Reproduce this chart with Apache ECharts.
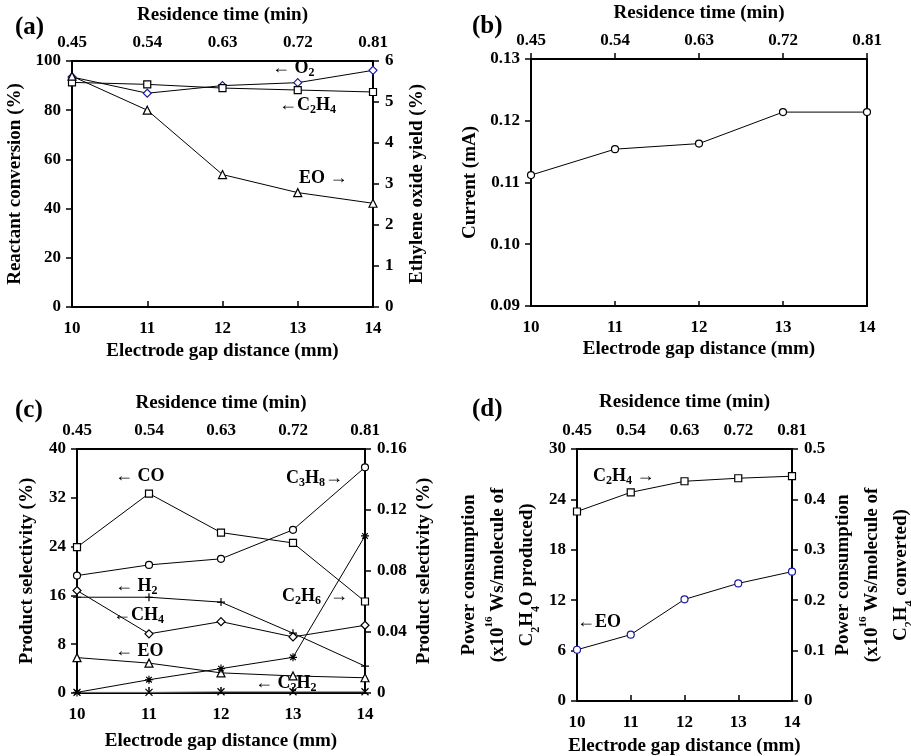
<!DOCTYPE html>
<html>
<head>
<meta charset="utf-8">
<script src="https://cdn.jsdelivr.net/npm/echarts@6/dist/echarts.min.js"></script>
<style>
  html, body { margin: 0; padding: 0; background: #fff; }
  #chart { width: 911px; height: 756px; }
</style>
</head>
<body>
<div id="chart"></div>
<script>
// x axis (bottom) and residence time (top)
var gap = [10, 11, 12, 13, 14];
var resTime = ['0.45', '0.54', '0.63', '0.72', '0.81'];

// (a) reactant conversion (%) and EO yield (%)
var aO2 = [93.5, 86.9, 90.0, 91.2, 96.2];
var aC2H4 = [91.3, 90.5, 89.0, 88.2, 87.4];
var aEOyield = [5.63, 4.80, 3.23, 2.79, 2.53];

// (b) current (mA)
var bCurrent = [0.1112, 0.1154, 0.1163, 0.1214, 0.1214];

// (c) product selectivity (%)
var cCO = [23.9, 32.7, 26.3, 24.6, 15.0];
var cC3H8 = [0.077, 0.084, 0.088, 0.107, 0.148];   // right axis
var cH2 = [15.7, 15.7, 14.9, 9.8, 4.4];
var cCH4 = [16.8, 9.7, 11.7, 9.2, 11.1];
var cEO = [5.8, 4.9, 3.3, 2.8, 2.5];
var cC2H6 = [0.0004, 0.0087, 0.016, 0.0234, 0.103]; // right axis
var cC2H2 = [0.1, 0.1, 0.2, 0.2, 0.2];

// (d) power consumption
var dEO = [6.1, 7.9, 12.1, 14.0, 15.4];
var dC2H4 = [0.376, 0.414, 0.436, 0.442, 0.446];    // right axis

var FONT = '"Liberation Serif", "DejaVu Serif", serif';
var myChart = echarts.init(document.getElementById('chart'));

var grids = [
  { left: 72, top: 61, width: 301, height: 246 },
  { left: 531, top: 59, width: 336, height: 247 },
  { left: 77, top: 449, width: 288, height: 244 },
  { left: 577, top: 449, width: 215, height: 252 }
];
// name gaps per panel: [top, bottom]
var xGaps = [[36, 35], [36, 34], [36, 39], [37, 36]];

var rich = {
  n: { fontFamily: FONT, fontWeight: 'bold', fontSize: 19, color: '#000', lineHeight: 29 },
  s: { fontFamily: FONT, fontWeight: 'bold', fontSize: 12, color: '#000', verticalAlign: 'bottom', lineHeight: 20, padding: [7, 0, 0, 0] },
  p: { fontFamily: FONT, fontWeight: 'bold', fontSize: 11, color: '#000', verticalAlign: 'top', padding: [0, 0, 9, 0] },
  m: { fontFamily: FONT, fontWeight: 'bold', fontSize: 18, color: '#000', lineHeight: 22 },
  ms: { fontFamily: FONT, fontWeight: 'bold', fontSize: 12, color: '#000', verticalAlign: 'bottom', lineHeight: 18, padding: [7, 0, 0, 0] }
};

function xAxes(g) {
  var common = {
    type: 'value', gridIndex: g, min: 10, max: 14, interval: 1,
    axisLine: { lineStyle: { color: '#000', width: 2 } },
    splitLine: { show: false },
    nameLocation: 'middle',
    nameTextStyle: { fontFamily: FONT, fontWeight: 'bold', fontSize: 19, color: '#000' }
  };
  return [
    Object.assign({}, common, {
      position: 'bottom', name: 'Electrode gap distance (mm)', nameGap: xGaps[g][1],
      axisTick: { inside: true, length: 5, lineStyle: { color: '#000', width: 1.5 } },
      axisLabel: { fontFamily: FONT, fontWeight: 'bold', fontSize: 17, color: '#000', margin: 13 }
    }),
    Object.assign({}, common, {
      position: 'top', name: 'Residence time (min)', nameGap: xGaps[g][0],
      axisTick: { length: 6, lineStyle: { color: '#000', width: 1.5 } },
      axisLabel: {
        fontFamily: FONT, fontWeight: 'bold', fontSize: 17, color: '#000', margin: 10,
        formatter: function (v) { return resTime[gap.indexOf(v)]; }
      }
    })
  ];
}

function yAxis(g, pos, min, max, interval, name, nameGap, showLabels, fmt) {
  return {
    type: 'value', gridIndex: g, position: pos, min: min, max: max, interval: interval,
    axisLine: { show: true, lineStyle: { color: '#000', width: 2 } },
    axisTick: { show: showLabels, length: 6, lineStyle: { color: '#000', width: 1.5 } },
    axisLabel: {
      show: showLabels, fontFamily: FONT, fontWeight: 'bold', fontSize: 17, color: '#000', margin: pos === 'left' ? 11 : 12,
      formatter: fmt
    },
    splitLine: { show: false },
    name: name, nameLocation: 'middle', nameGap: nameGap, nameRotate: 90,
    nameTextStyle: { fontFamily: FONT, fontWeight: 'bold', fontSize: 19, color: '#000', rich: rich, align: 'center' }
  };
}

function line(name, g, yIdx, data, symbol, size, border) {
  return {
    name: name, type: 'line',
    xAxisIndex: 2 * g, yAxisIndex: 2 * g + yIdx,
    data: gap.map(function (x, i) { return [x, data[i]]; }),
    symbol: symbol, symbolSize: size,
    lineStyle: { color: '#000', width: 1 },
    itemStyle: { color: '#fff', borderColor: border || '#000', borderWidth: 1.2 },
    showSymbol: true, silent: true, z: 3
  };
}

var PLUS = 'path://M0,5L10,5M5,0L5,10';
var STAR = 'path://M0,5L10,5M5,0L5,10M1.5,1.5L8.5,8.5M8.5,1.5L1.5,8.5';
var CROSS = 'path://M0,0L10,10M10,0L0,10';

var xA = [].concat(xAxes(0), xAxes(1), xAxes(2), xAxes(3));
var yA = [
  yAxis(0, 'left', 0, 100, 20, 'Reactant conversion (%)', 47, true),
  yAxis(0, 'right', 0, 6, 1, 'Ethylene oxide yield (%)', 35, true),
  yAxis(1, 'left', 0.09, 0.13, 0.01, 'Current (mA)', 51, true, function (v) { return v.toFixed(2); }),
  yAxis(1, 'right', 0.09, 0.13, 0.01, '', 0, false),
  yAxis(2, 'left', 0, 40, 8, 'Product selectivity (%)', 40, true),
  yAxis(2, 'right', 0, 0.16, 0.04, 'Product selectivity (%)', 50, true, function (v) { return v === 0 ? '0' : v.toFixed(2); }),
  yAxis(3, 'left', 0, 30, 6,
    '{n|Power consumption}\n{n|(x10}{p|16}{n| Ws/molecule of}\n{n|C}{s|2}{n|H}{s|4}{n|O produced)}', 35, true),
  yAxis(3, 'right', 0, 0.5, 0.1,
    '{n|Power consumption}\n{n|(x10}{p|16}{n| Ws/molecule of}\n{n|C}{s|2}{n|H}{s|4}{n| converted)}', 37, true,
    function (v) { return v === 0 ? '0' : v.toFixed(1); })
];

var series = [
  line('O2', 0, 0, aO2, 'diamond', 8, '#1a1aa6'),
  line('C2H4', 0, 0, aC2H4, 'rect', 7),
  line('EO yield', 0, 1, aEOyield, 'triangle', 8),
  line('Current', 1, 0, bCurrent, 'circle', 7),
  line('CO', 2, 0, cCO, 'rect', 7),
  line('C3H8', 2, 1, cC3H8, 'circle', 7),
  line('H2', 2, 0, cH2, PLUS, 8),
  line('CH4', 2, 0, cCH4, 'diamond', 8),
  line('EO', 2, 0, cEO, 'triangle', 8),
  line('C2H6', 2, 1, cC2H6, STAR, 8),
  line('C2H2', 2, 0, cC2H2, CROSS, 7),
  line('EO power', 3, 0, dEO, 'circle', 7, '#1a1aa6'),
  line('C2H4 power', 3, 1, dC2H4, 'rect', 7)
];
series[10].lineStyle.color = '#777';

function label(txt, x, y, size) {
  return {
    type: 'text', left: x, top: y, z: 10,
    style: { text: txt, rich: rich, fontFamily: FONT, fontWeight: 'bold', fontSize: size || 18, fill: '#000' }
  };
}

var graphics = [
  label('(a)', 15, 15, 25),
  label('(b)', 472, 14, 25),
  label('(c)', 15, 398, 25),
  label('(d)', 472, 397, 25),
  // (a) annotations
  label('{m|\u2190 O}{ms|2}', 272, 59),
  label('{m|\u2190C}{ms|2}{m|H}{ms|4}', 279, 96),
  label('{m|EO \u2192}', 299, 169),
  // (c) annotations
  label('{m|\u2190 CO}', 115, 467),
  label('{m|C}{ms|3}{m|H}{ms|8}{m|\u2192}', 286, 469),
  label('{m|\u2190 H}{ms|2}', 115, 577),
  label('{m|C}{ms|2}{m|H}{ms|6}{m|  \u2192}', 282, 587),
  label('{m|\u2190CH}{ms|4}', 113, 606),
  label('{m|\u2190 EO}', 115, 642),
  label('{m|\u2190 C}{ms|2}{m|H}{ms|2}', 255, 674),
  // (d) annotations
  label('{m|C}{ms|2}{m|H}{ms|4}{m| \u2192}', 593, 467),
  label('{m|\u2190EO}', 577, 613)
];

myChart.setOption({
  backgroundColor: '#fff',
  animation: false,
  grid: grids.map(function (g) {
    return Object.assign({
      show: true, borderColor: '#000', borderWidth: 2, backgroundColor: 'transparent',
      containLabel: false, outerBoundsMode: 'none'
    }, g);
  }),
  xAxis: xA,
  yAxis: yA,
  series: series,
  graphic: graphics
});
</script>
</body>
</html>
